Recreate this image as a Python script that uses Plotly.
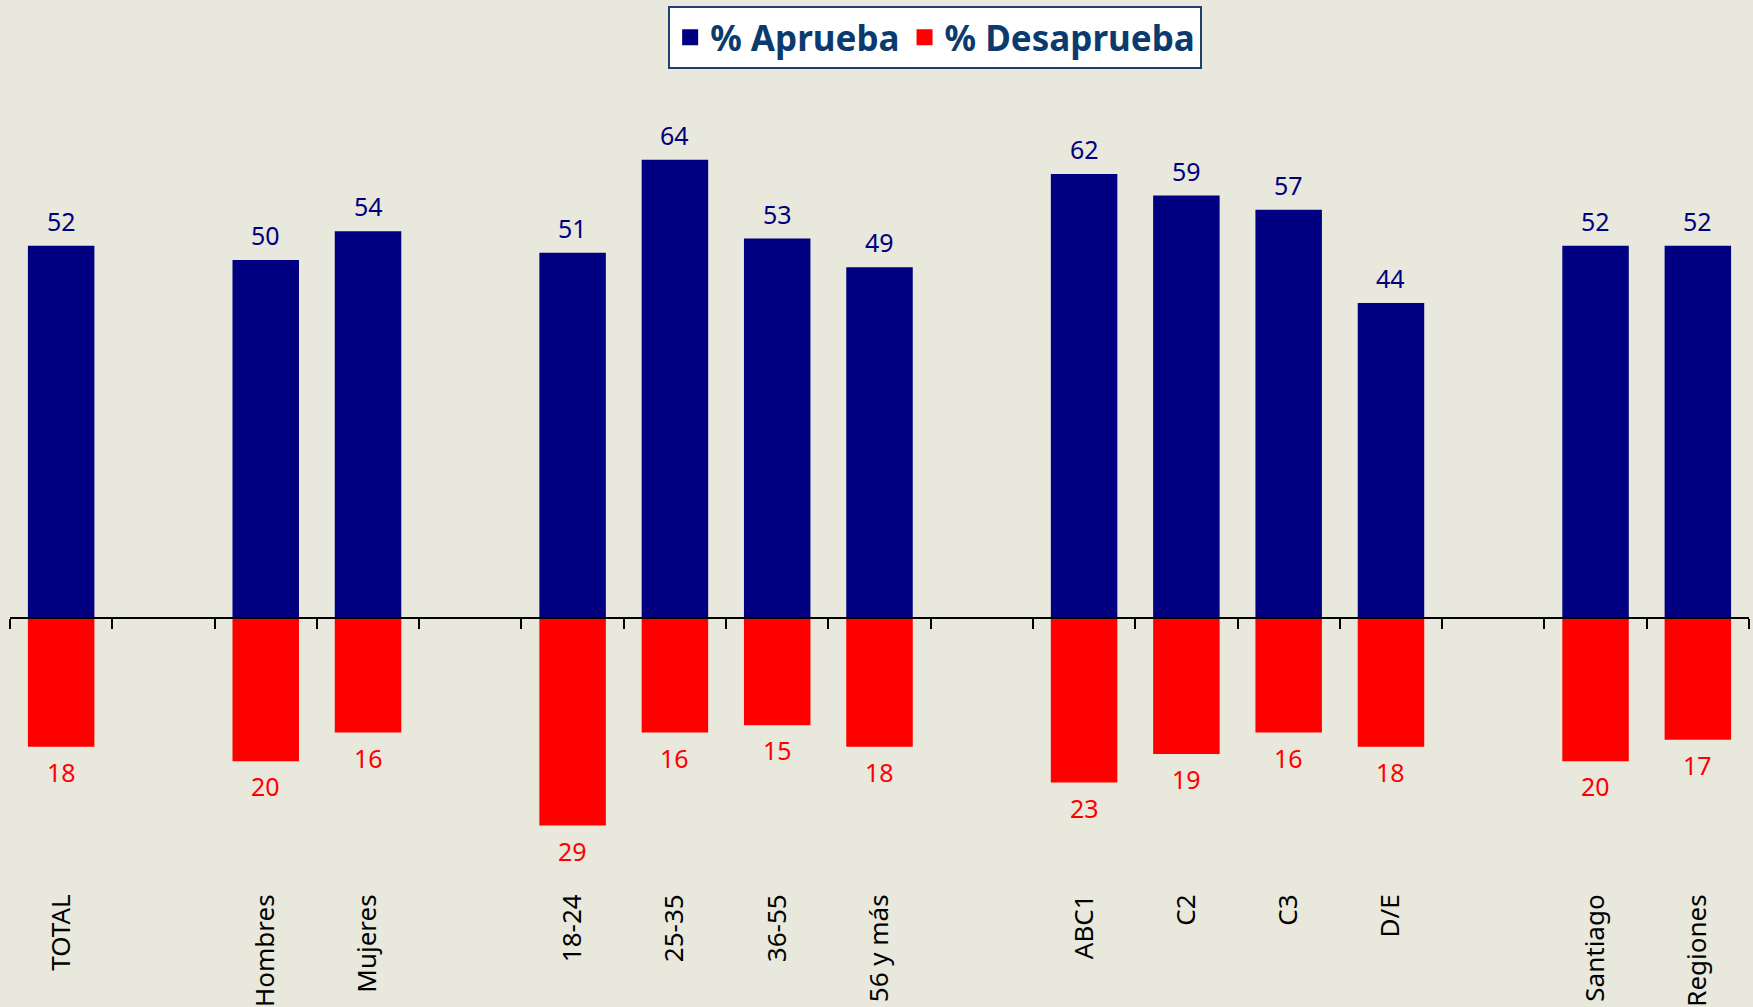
import plotly.graph_objects as go

groups = [
    ["TOTAL"],
    ["Hombres", "Mujeres"],
    ["18-24", "25-35", "36-55", "56 y más"],
    ["ABC1", "C2", "C3", "D/E"],
    ["Santiago", "Regiones"],
]
aprueba = [52, 50, 54, 51, 64, 53, 49, 62, 59, 57, 44, 52, 52]
desaprueba = [18, 20, 16, 29, 16, 15, 18, 23, 19, 16, 18, 20, 17]

# positions with one empty slot between groups
labels, pos = [], []
p = 0
for g in groups:
    for c in g:
        labels.append(c)
        pos.append(p)
        p += 1
    p += 1
n_slots = p - 1
boundaries = [i - 0.5 for i in range(n_slots + 1)]

NAVY = "#000080"
RED = "#FF0000"
FONT = "Noto Sans"

ymin, ymax = -38, 75

fig = go.Figure()
fig.add_bar(x=pos, y=aprueba, name="% Aprueba", marker=dict(color=NAVY, line_width=0),
            width=0.65, hoverinfo="skip", showlegend=False)
fig.add_bar(x=pos, y=[-v for v in desaprueba], name="% Desaprueba",
            marker=dict(color=RED, line_width=0), width=0.65, hoverinfo="skip",
            showlegend=False)
# legend entries with larger square swatches
fig.add_scatter(x=[None], y=[None], mode="markers", name="% Aprueba",
                marker=dict(symbol="square", size=22, color=NAVY))
fig.add_scatter(x=[None], y=[None], mode="markers", name="% Desaprueba",
                marker=dict(symbol="square", size=22, color=RED))

for x, v in zip(pos, aprueba):
    fig.add_annotation(x=x, y=v, text=str(v), showarrow=False, yanchor="bottom",
                       yshift=6, font=dict(family=FONT, size=25, color=NAVY))
for x, v in zip(pos, desaprueba):
    fig.add_annotation(x=x, y=-v, text=str(v), showarrow=False, yanchor="top",
                       yshift=-6, font=dict(family=FONT, size=25, color=RED))

zero_frac = (0 - ymin) / (ymax - ymin)

fig.update_layout(
    width=1753, height=1007,
    barmode="relative",
    paper_bgcolor="#E8E8DC", plot_bgcolor="#E8E8DC",
    margin=dict(l=10, r=4, t=81, b=117, autoexpand=False),
    showlegend=True,
    legend=dict(orientation="h", x=0.532, xanchor="center", y=1 - 6 / 1007,
                yref="container", yanchor="top", bgcolor="white",
                bordercolor="#1F3F6F", borderwidth=2,
                font=dict(family=FONT, size=35, color="#0B3B6E", weight="bold"),
                itemsizing="trace", itemwidth=30, tracegroupgap=0),
    xaxis=dict(range=[-0.5, n_slots - 0.5], tickvals=pos, ticktext=labels,
               tickangle=-90, ticks="", showgrid=False, zeroline=False,
               anchor="free", position=zero_frac, automargin=False,
               showline=True, linecolor="black", linewidth=2,
               ticklabelstandoff=265,
               tickfont=dict(family=FONT, size=26, color="black"),
               minor=dict(tickvals=boundaries, ticks="outside", ticklen=10,
                          tickcolor="black", tickwidth=2, showgrid=False)),
    yaxis=dict(range=[ymin, ymax], visible=False, showgrid=False, zeroline=False,
               automargin=False),
)

fig.write_html("out.html", config={"displayModeBar": False},
               post_script="document.body.style.margin='0';")
